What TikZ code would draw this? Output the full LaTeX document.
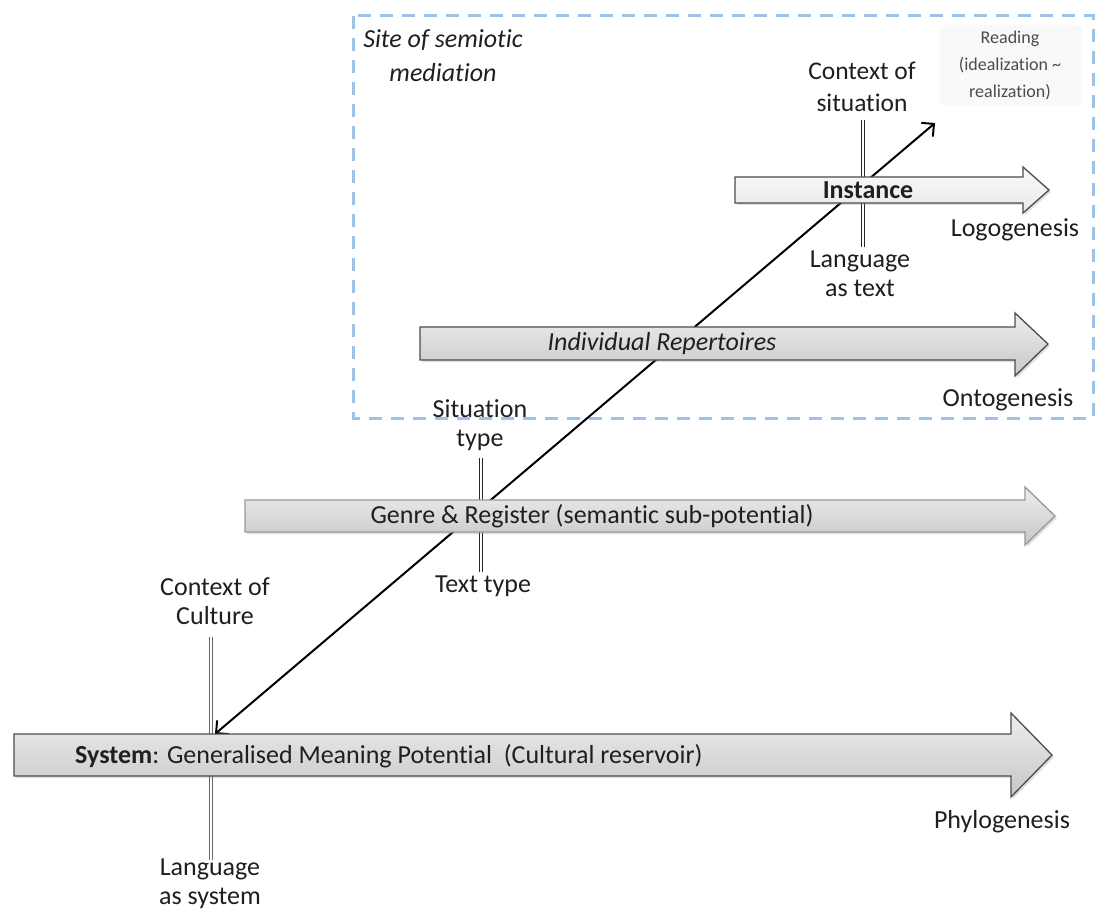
\documentclass[tikz,border=0pt]{standalone}
\usepackage{fontspec}
\setmainfont{Carlito}[Ligatures={NoCommon}]
\usetikzlibrary{arrows.meta,shadows}

\definecolor{txt}{HTML}{1F1F1F}
\definecolor{siteblue}{HTML}{9DC3E6}

\tikzset{
  lbl/.style={text=txt, align=center, inner sep=0pt, font=\fontsize{26}{29}\selectfont},
  small/.style={text=black!70, align=center, inner sep=0pt, font=\fontsize{18}{27}\selectfont},
  fatarrow/.style={draw=black!70, line width=1.3pt, line join=miter,
    drop shadow={opacity=0.25, shadow xshift=2pt, shadow yshift=-2pt}},
  greyfill/.style={top color=black!7, bottom color=black!22},
  lightfill/.style={top color=black!2, bottom color=black!9},
  dbl/.style={double=white, double distance=2.2pt, line width=0.9pt, draw=black!85},
  dblgrey/.style={double=white, double distance=2.2pt, line width=0.9pt, draw=black!60},
  diag/.style={line width=2pt, black, {Straight Barb[length=9pt,width=18pt]}-{Straight Barb[length=9pt,width=18pt]}},
  sitebox/.style={draw=siteblue, line width=3pt, dash pattern=on 13pt off 9pt}
}

\begin{document}
\begin{tikzpicture}[x=1pt,y=-1pt]
\useasboundingbox[fill=white] (0,0) rectangle (1096,912);

% dashed region for the site of semiotic mediation
\draw[sitebox] (353,16) rectangle (1093,418);

% soft panel behind the reading note
\fill[black!2.5, rounded corners=6pt] (940,25) rectangle (1082,106);

% endpoints of the instantiation/reading line
\coordinate (readtip) at (935,123);
\coordinate (systip) at (215,734);

% double rules marking the stratal contexts
\coordinate (cs1) at (863,120);  \coordinate (cs2) at (863,177);
\coordinate (lt1) at (863,203);  \coordinate (lt2) at (863,247);
\coordinate (st1) at (481,458);  \coordinate (st2) at (481,500);
\coordinate (tt1) at (481,532);  \coordinate (tt2) at (481,572);
\coordinate (cc1) at (211,637);  \coordinate (cc2) at (211,734);
\coordinate (ls1) at (211,776);  \coordinate (ls2) at (211,860);
\draw[dbl] (cs1) -- (cs2);
\draw[dbl] (lt1) -- (lt2);
\draw[dbl] (st1) -- (st2);
\draw[dbl] (tt1) -- (tt2);
\draw[dblgrey] (cc1) -- (cc2);
\draw[dblgrey] (ls1) -- (ls2);

% diagonal cline of instantiation
\draw[diag] (systip) -- (readtip);

% broad arrows for the four timescales
\path[fatarrow, lightfill] (735,177) -- (1023,177) -- (1023,167) -- (1049,190)
  -- (1023,213) -- (1023,203) -- (735,203) -- cycle;
\path[fatarrow, greyfill] (420,327) -- (1015,327) -- (1015,313) -- (1048,344)
  -- (1015,376) -- (1015,360) -- (420,360) -- cycle;
\path[fatarrow, greyfill, draw=black!40] (245,500) -- (1025,500) -- (1025,487) -- (1055,516)
  -- (1025,545) -- (1025,532) -- (245,532) -- cycle;
\path[fatarrow, greyfill] (14,734) -- (1011,734) -- (1011,713) -- (1052,755)
  -- (1011,797) -- (1011,776) -- (14,776) -- cycle;

% labels
\node[lbl, font=\fontsize{26}{34}\selectfont\itshape] (site) at (443,56) {Site of semiotic\\mediation};
\node[small] (reading) at (1010,66) {Reading\\(idealization \textasciitilde\\realization)};
\node[lbl, font=\fontsize{25.5}{32}\selectfont] (ctxsit) at (862,87) {Context of\\situation};
\node[lbl, font=\fontsize{26}{29}\selectfont\bfseries] (instance) at (868,190) {Instance};
\node[lbl] (langtext) at (860,274) {Language\\as text};
\node[lbl] (logo) at (1015,230) {Logogenesis};
\node[lbl, font=\fontsize{26}{29}\selectfont\itshape] (indiv) at (662,344) {Individual Repertoires};
\node[lbl] (onto) at (1008,400) {Ontogenesis};
\node[lbl] (sittype) at (480,425) {Situation\\type};
\node[lbl] (genre) at (592,516) {Genre \& Register (semantic sub-potential)};
\node[lbl] (texttype) at (483,586) {Text type};
\node[lbl] (ctxcult) at (215,601) {Context of\\Culture};
\node[lbl, anchor=west] (system) at (75,756) {\textbf{System}: Generalised Meaning Potential \ (Cultural reservoir)};
\node[lbl] (phylo) at (1002,822) {Phylogenesis};
\node[lbl] (langsys) at (210,884) {Language\\as system};
\end{tikzpicture}
\end{document}
